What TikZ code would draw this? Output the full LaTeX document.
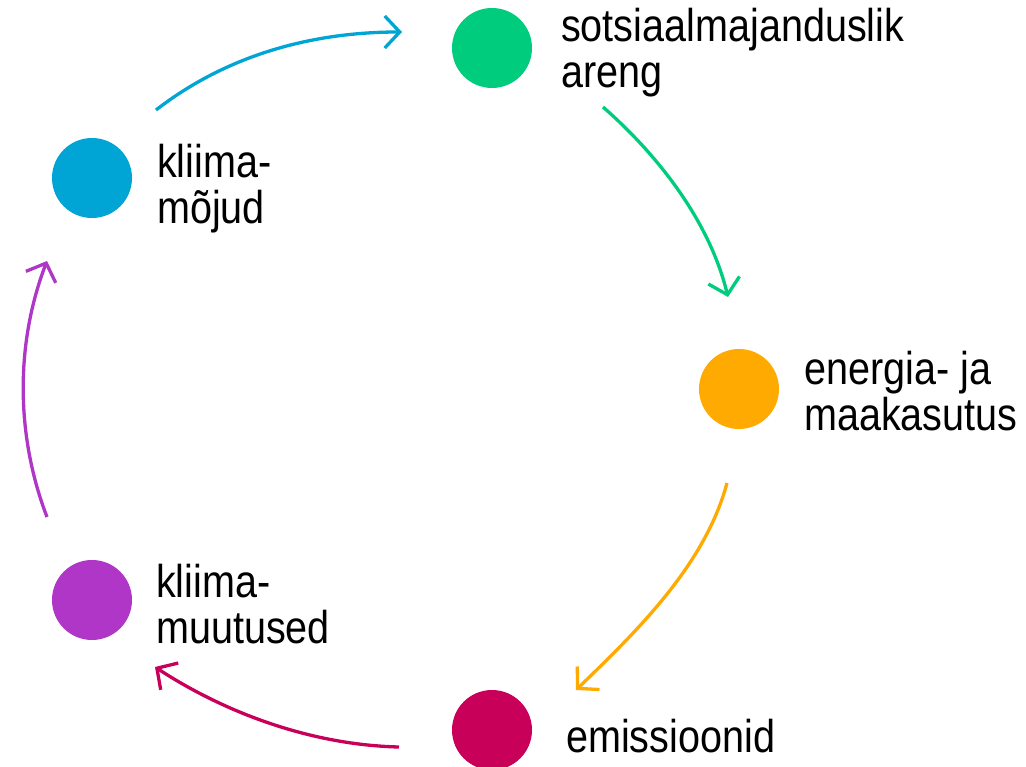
\documentclass[tikz,border=0pt]{standalone}
\usepackage{fontspec}
\setmainfont{Liberation Sans}[FakeStretch=0.86]
\usetikzlibrary{arrows.meta}
\definecolor{cblue}{HTML}{00A5D5}
\definecolor{cgreen}{HTML}{00CC7E}
\definecolor{corange}{HTML}{FFAA00}
\definecolor{ccrimson}{HTML}{C8005A}
\definecolor{cpurple}{HTML}{AF36C7}
\begin{document}
\begin{tikzpicture}[x=1pt,y=-1pt,
  dot/.style={circle,minimum size=80pt,inner sep=0pt,draw=none},
  lbl/.style={anchor=base west,align=left,inner sep=0pt,font=\fontsize{46}{46}\selectfont},
  cyc/.style={line width=3.3pt,-{Straight Barb[length=15pt,width=32pt]}}]
\useasboundingbox (0,0) rectangle (1026,767);
% circles
\node[dot,fill=cgreen]   (dg) at (492,48)  {};
\node[dot,fill=corange]  (do) at (739,389) {};
\node[dot,fill=ccrimson] (dc) at (492,730) {};
\node[dot,fill=cpurple]  (dp) at (92,600)  {};
\node[dot,fill=cblue]    (db) at (92,178)  {};
% labels (anchor at baseline of last line)
\node[lbl] (tg) at (561,88)  {sotsiaalmajanduslik\\areng};
\node[lbl] (to) at (804,430) {energia- ja\\maakasutus};
\node[lbl] (tc) at (566,752) {emissioonid};
\node[lbl] (tp) at (156,643) {kliima-\\muutused};
\node[lbl] (tb) at (157,224) {kliima-\\mõjud};
% arrow end points
\coordinate (b0) at (156,110); \coordinate (b1) at (402,32);
\coordinate (g0) at (603,107); \coordinate (g1) at (728,297);
\coordinate (o0) at (727,483); \coordinate (o1) at (576,690);
\coordinate (c0) at (399,747); \coordinate (c1) at (155,667);
\coordinate (p0) at (47,517);  \coordinate (p1) at (47,261);
% arrows
\draw[cyc,cblue]    (b0) .. controls (227,55) and (312,32) .. (b1);
\draw[cyc,cgreen]   (g0) .. controls (660,157) and (710,223) .. (g1);
\draw[cyc,corange]  (o0) .. controls (705,565) and (637,631) .. (o1);
\draw[cyc,ccrimson] (c0) .. controls (313,745) and (227,714) .. (c1);
\draw[cyc,cpurple]  (p0) .. controls (15.5,435) and (15.5,343) .. (p1);
\end{tikzpicture}
\end{document}
